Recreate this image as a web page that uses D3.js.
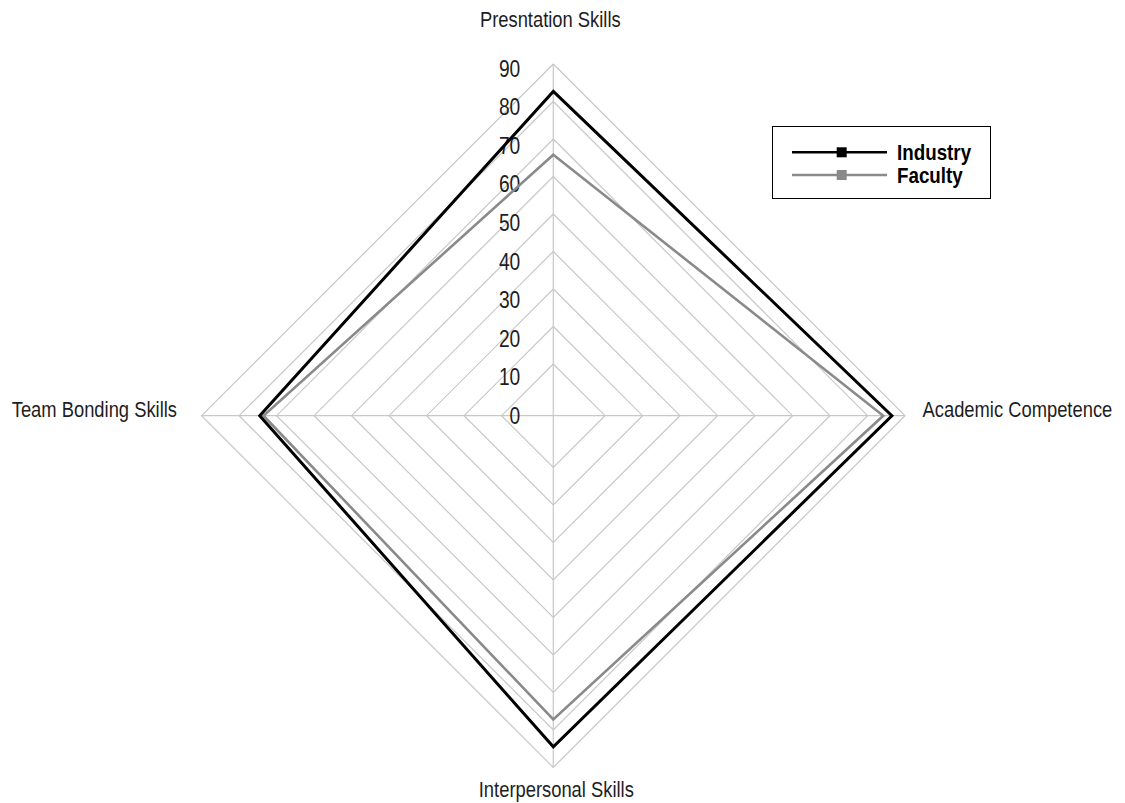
<!DOCTYPE html>
<html>
<head>
<meta charset="utf-8">
<script src="https://cdn.jsdelivr.net/npm/d3@7"></script>
<style>
  html, body { margin: 0; padding: 0; background: #fff; }
  svg text { font-family: "Liberation Sans", Arial, sans-serif; fill: #1e1e1e; }
</style>
</head>
<body>
<svg id="chart" width="1125" height="803"></svg>
<script>
// Skill areas, clockwise from the top
const categories = ["Presntation Skills", "Academic Competence", "Interpersonal Skills", "Team Bonding Skills"];
// Ratings per group
const industry = [82.7, 86.5, 84.5, 74.5];
const faculty  = [65.8, 84.2, 77.2, 73.5];
// Radial axis ticks
const ringTicks = [10, 20, 30, 40, 50, 60, 70, 80, 90];
const tickLabels = [0, 10, 20, 30, 40, 50, 60, 70, 80, 90];

const series = [
  { name: "Industry", values: industry, color: "#000000", width: 3 },
  { name: "Faculty",  values: faculty,  color: "#8a8a8a", width: 2.6 }
];

const svg = d3.select("#chart");
const cx = 553.3, cy = 415.7;
const narrow = 0.835; // horizontal squeeze for a condensed look

// radius scale for rings and data
const r = d3.scaleLinear().domain([-3.8, 90]).range([0, 351.7]);
// placement of the value labels along the vertical spoke
const labelR = d3.scaleLinear().domain([0, 90]).range([0, 347.4]);
const angle = d3.scaleLinear().domain([0, categories.length]).range([0, 2 * Math.PI]);

const pt = (i, v) => {
  const a = angle(i);
  return [cx + r(v) * Math.sin(a), cy - r(v) * Math.cos(a)];
};

const g = svg.append("g");

// grid rings
const ringLine = d3.line();
ringTicks.forEach(t => {
  const pts = categories.map((_, i) => pt(i, t));
  pts.push(pts[0]);
  g.append("path")
    .attr("d", ringLine(pts))
    .attr("fill", "none")
    .attr("stroke", "#c8c8c8")
    .attr("stroke-width", 1.2);
});

// spokes
categories.forEach((_, i) => {
  const [x, y] = pt(i, 90);
  g.append("line")
    .attr("x1", cx).attr("y1", cy)
    .attr("x2", x).attr("y2", y)
    .attr("stroke", "#c8c8c8")
    .attr("stroke-width", 1.2);
});

// value labels
g.selectAll("text.tick")
  .data(tickLabels)
  .join("text")
  .attr("class", "tick")
  .attr("transform", d => `translate(${cx - 33},${cy - labelR(d)}) scale(${narrow},1)`)
  .attr("dy", "0.36em")
  .attr("text-anchor", "end")
  .attr("font-size", 23)
  .text(d => d);

// series polygons
const radarLine = d3.line().curve(d3.curveLinearClosed);
series.slice().reverse().forEach(s => {
  g.append("path")
    .attr("d", radarLine(s.values.map((v, i) => pt(i, v))))
    .attr("fill", "none")
    .attr("stroke", s.color)
    .attr("stroke-width", s.width)
    .attr("stroke-linejoin", "miter");
});

// category labels
const catPos = [
  { x: cx - 3, y: 27, anchor: "middle" },
  { x: 922.5, y: 417, anchor: "start" },
  { x: cx + 3, y: 797, anchor: "middle" },
  { x: 177, y: 417, anchor: "end" }
];
g.selectAll("text.cat")
  .data(categories)
  .join("text")
  .attr("class", "cat")
  .attr("transform", (d, i) => `translate(${catPos[i].x},${catPos[i].y}) scale(${narrow},1)`)
  .attr("text-anchor", (d, i) => catPos[i].anchor)
  .attr("font-size", 22)
  .text(d => d);

// legend
const legend = svg.append("g");
legend.append("rect")
  .attr("x", 772.5).attr("y", 126.5)
  .attr("width", 218).attr("height", 72)
  .attr("fill", "#fff")
  .attr("stroke", "#000")
  .attr("stroke-width", 1);
const ly = d3.scalePoint().domain(series.map(s => s.name)).range([152.3, 175]);
series.forEach(s => {
  const y = ly(s.name);
  legend.append("line")
    .attr("x1", 792).attr("x2", 887)
    .attr("y1", y).attr("y2", y)
    .attr("stroke", s.color)
    .attr("stroke-width", 2.6);
  legend.append("rect")
    .attr("x", 841.7 - 5).attr("y", y - 5)
    .attr("width", 10).attr("height", 10)
    .attr("fill", s.color);
  legend.append("text")
    .attr("transform", `translate(897,${y}) scale(${narrow},1)`)
    .attr("dy", "0.36em")
    .attr("font-size", 22.5)
    .attr("font-weight", "bold")
    .style("fill", "#000")
    .text(s.name);
});
</script>
</body>
</html>
